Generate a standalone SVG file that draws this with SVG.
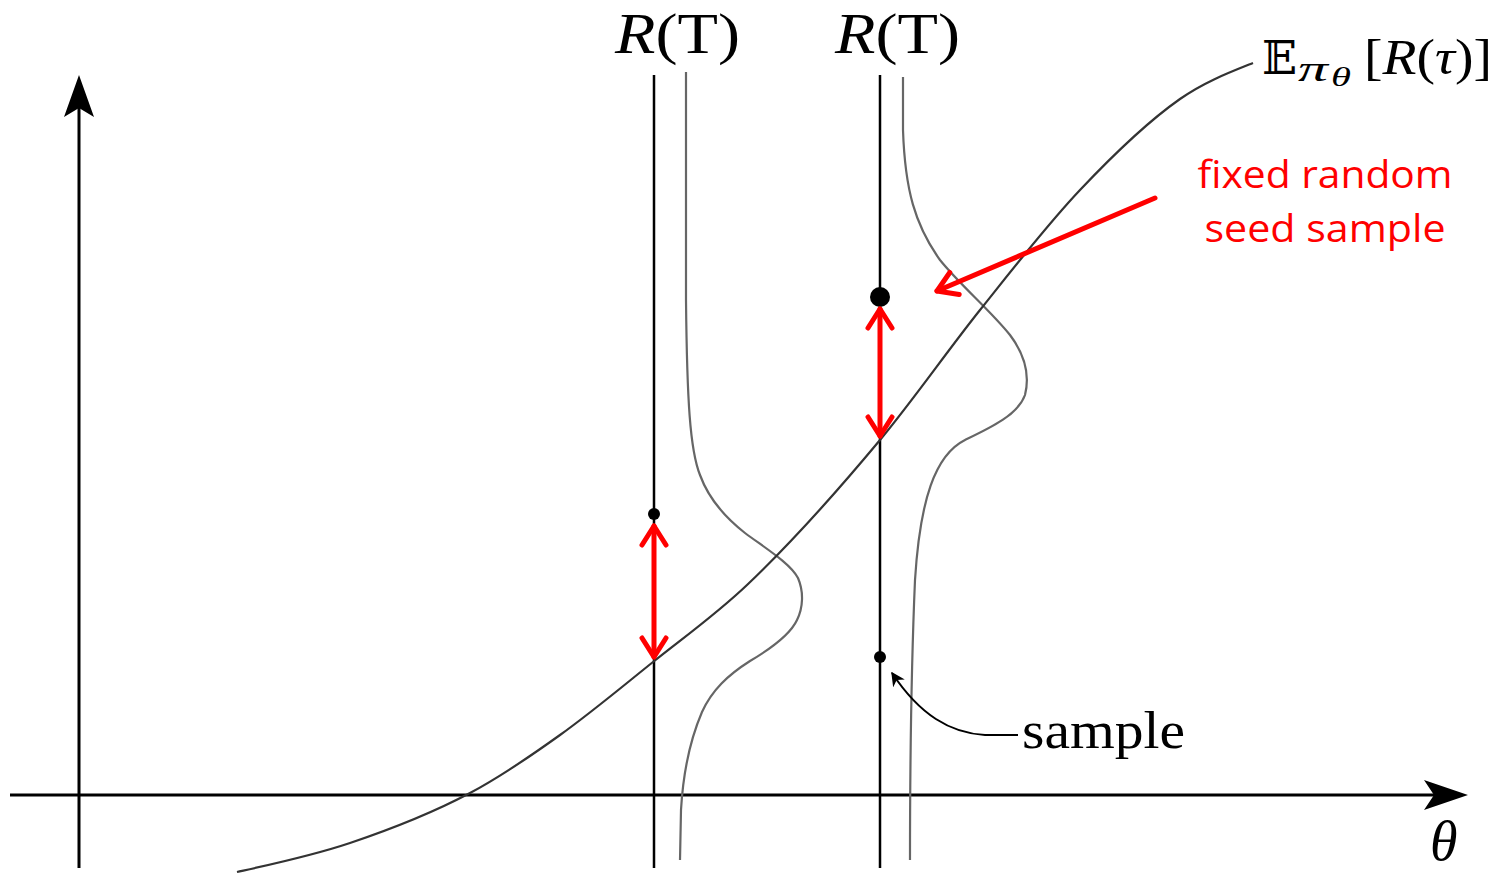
<svg xmlns="http://www.w3.org/2000/svg" width="1497" height="875" viewBox="0 0 1497 875">
<style>
.axis{stroke:#000;stroke-width:3;fill:none}
.vline{stroke:#000;stroke-width:2.5;fill:none}
.curve{stroke:#333;stroke-width:2.2;fill:none}
.dens{stroke:#666;stroke-width:2.2;fill:none}
.red{stroke:#ff0000;stroke-width:5;fill:none;stroke-linecap:round}
.math{font-family:"Liberation Serif","DejaVu Serif",serif;fill:#000}
.redtxt{font-family:"Open Sans","Liberation Sans",sans-serif;fill:#ff0000;font-size:38px}
</style>
<defs>
<marker id="chev" viewBox="0 0 30 30" refX="25" refY="15" markerWidth="30" markerHeight="30" markerUnits="userSpaceOnUse" orient="auto-start-reverse">
<path d="M6,3 L25,15 L6,27" fill="none" stroke="#ff0000" stroke-width="5" stroke-linecap="round" stroke-linejoin="round"/>
</marker>
<marker id="small" viewBox="0 0 10 10" refX="9" refY="5" markerWidth="14" markerHeight="14" markerUnits="userSpaceOnUse" orient="auto">
<path d="M0,0 L10,5 L0,10 L3,5 Z" fill="#000"/>
</marker>
</defs>
<g id="axes">
<line class="axis" x1="10" y1="795" x2="1440" y2="795"/>
<path d="M1468,795 L1424,780 L1434,795 L1424,810 Z" fill="#000"/>
<line class="axis" x1="79" y1="868" x2="79" y2="105"/>
<path d="M79,75 L64,117 L79,108 L94,117 Z" fill="#000"/>
<text class="math" x="1430" y="860" font-size="56" font-style="italic">θ</text>
</g>
<g id="line1">
<line class="vline" x1="654" y1="75" x2="654" y2="868"/>
<text class="math" x="615" y="53" font-size="58" textLength="125" lengthAdjust="spacingAndGlyphs"><tspan font-style="italic">R</tspan>(T)</text>
<path class="dens" d="M686,72 L686,300 C687,400 690,450 700,475 C708,497 722,515 745,533 C765,548 790,563 798,578 C804,592 803,608 797,620 C790,635 772,648 750,661 C728,675 712,690 702,712 C690,740 683,775 681,810 L680,860"/>
<circle cx="654" cy="514" r="6" fill="#000"/>
</g>
<g id="line2">
<line class="vline" x1="880" y1="75" x2="880" y2="868"/>
<text class="math" x="835" y="53" font-size="58" textLength="125" lengthAdjust="spacingAndGlyphs"><tspan font-style="italic">R</tspan>(T)</text>
<path class="dens" d="M903,77 L903,130 C905,190 915,225 940,260 C960,285 990,310 1010,335 C1025,355 1030,375 1025,395 C1018,415 990,428 965,440 C935,455 920,500 915,580 C912,650 910,760 910,860"/>
<circle cx="880" cy="297" r="10" fill="#000"/>
<circle cx="880" cy="657" r="6" fill="#000"/>
</g>
<g id="expectation">
<path class="curve" d="M237,872 C274.7,863.7 312.3,855.7 350,843 C390,829.5 430,814.2 470,793 C500,777.1 530,756.5 560,735 C591,712.8 622,686.8 653,662 C684.3,636.9 715.7,614.8 747,585 C791.3,542.9 835.7,493.2 880,440 C913.3,400 946.7,351.7 980,310 C1013.3,268.3 1046.7,225.2 1080,190 C1113.3,154.8 1146.7,122.3 1180,99 C1204.3,82 1228.7,72.7 1253,63"/>
<text class="math" x="1262" y="74" font-size="46" font-family="DejaVu Serif,serif">𝔼</text>
<text class="math" x="1298" y="81" font-size="36" font-style="italic" textLength="30" lengthAdjust="spacingAndGlyphs">π</text>
<text class="math" x="1331" y="86" font-size="28" font-style="italic" textLength="20" lengthAdjust="spacingAndGlyphs">θ</text>
<text class="math" x="1364" y="74" font-size="50" textLength="128" lengthAdjust="spacingAndGlyphs">[<tspan font-style="italic">R</tspan>(<tspan font-style="italic">τ</tspan>)]</text>
</g>
<g id="sample-label">
<path d="M1018,735 L985,735 C950,733 920,715 892,673" fill="none" stroke="#000" stroke-width="2" marker-end="url(#small)"/>
<text class="math" x="1022" y="748" font-size="52" textLength="163" lengthAdjust="spacingAndGlyphs">sample</text>
</g>
<g id="seed-label">
<text class="redtxt" x="1325" y="188" text-anchor="middle" textLength="255" lengthAdjust="spacingAndGlyphs">fixed random</text>
<text class="redtxt" x="1325" y="242" text-anchor="middle" textLength="241" lengthAdjust="spacingAndGlyphs">seed sample</text>
</g>
<g id="connectors">
<line class="red" x1="654" y1="526" x2="654" y2="657" marker-start="url(#chev)" marker-end="url(#chev)"/>
<line class="red" x1="880" y1="309" x2="880" y2="436" marker-start="url(#chev)" marker-end="url(#chev)"/>
<line class="red" x1="1155" y1="198" x2="937" y2="291" marker-end="url(#chev)"/>
</g>
</svg>
